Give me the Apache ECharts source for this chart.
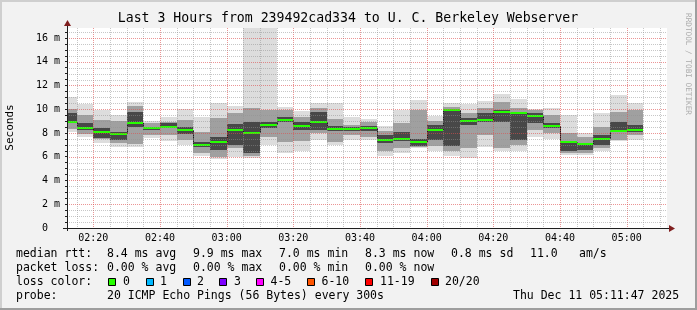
<!DOCTYPE html>
<html><head><meta charset="utf-8">
<script src="https://cdn.jsdelivr.net/npm/echarts@6/dist/echarts.min.js"></script>
<style>html,body{margin:0;padding:0;background:#f2f2f2}#c{width:697px;height:310px}</style>
</head><body><div id="c"></div><script>
// ---- data (milliseconds) ----
const stepStarts = ['02:10','02:15','02:20','02:25','02:30','02:35','02:40','02:45','02:50','02:55',
  '03:00','03:05','03:10','03:15','03:20','03:25','03:30','03:35','03:40','03:45','03:50','03:55',
  '04:00','04:05','04:10','04:15','04:20','04:25','04:30','04:35','04:40','04:45','04:50','04:55','05:00'];
const medianMs = [8.9,8.42,8.1,7.92,8.87,8.45,8.53,8.25,7.0,7.27,8.25,7.97,8.7,9.1,8.55,8.93,8.36,8.36,8.45,7.41,7.52,7.27,8.22,9.94,9.04,9.09,9.77,9.71,9.43,8.62,7.21,7.05,7.52,8.2,8.25];
const minMs = [8.05,7.7,7.15,6.8,6.85,7.55,7.3,7.0,6.09,5.78,6.0,5.92,7.0,6.35,6.45,7.4,7.0,7.45,7.4,6.1,6.3,6.7,6.45,6.1,5.87,6.8,6.5,6.5,7.65,7.5,6.15,6.15,6.5,7.3,7.41];
const p15Ms = [8.3,7.9,7.47,7.13,7.1,7.83,7.83,7.4,6.3,6.0,6.77,6.1,7.7,7.2,7.3,7.97,7.27,7.8,7.7,6.5,6.7,6.85,6.9,6.5,6.7,7.83,6.7,7.0,8.25,7.97,6.35,6.35,6.75,7.41,7.8];
const p35Ms = [8.85,8.25,7.6,7.4,8.5,8.25,8.39,7.92,6.8,6.57,6.99,6.3,8.4,8.9,8.25,8.25,8.2,8.2,8.2,7.13,7.3,6.9,7.41,6.9,8.67,8.95,8.95,7.45,8.82,8.39,6.5,6.57,6.99,8.2,8.11];
const p65Ms = [9.66,8.8,8.4,8.1,9.8,8.53,8.81,8.53,7.27,7.7,8.73,8.95,8.95,9.38,8.95,9.8,8.55,8.5,8.6,7.83,8.1,7.5,8.67,10.0,9.24,9.66,9.94,9.8,9.66,8.81,7.25,7.15,7.83,8.95,8.67];
const p85Ms = [10.0,9.5,9.1,9.0,10.3,8.81,8.95,9.1,8.1,9.24,9.66,10.08,9.9,9.9,9.38,10.08,9.15,8.7,8.9,8.2,8.81,9.9,9.0,10.2,9.66,10.08,10.64,10.1,9.9,9.52,7.97,7.7,8.53,9.8,9.94];
const maxMs = [11.0,10.4,9.95,9.5,10.65,9.05,9.38,10.0,9.37,10.5,10.27,18,18,10.22,9.85,10.55,10.5,9.38,9.15,8.6,9.94,10.8,9.43,10.5,10.45,10.7,11.28,10.83,10.05,10.08,9.52,8.03,9.71,11.2,10.55];
const timeLabels = ['02:20','02:40','03:00','03:20','03:40','04:00','04:20','04:40','05:00'];
const yLabelValues = [0,2,4,6,8,10,12,14,16];
const lossLevels = ['0','1','2','3','4-5','6-10','11-19','20/20'];
const lossColors = ['#26ff00','#00b8ff','#0059ff','#7e00ff','#ff00ff','#ff5500','#ff0000','#a00000'];
const timeStart = 132.1, timeEnd = 312.1, stepMinutes = 5, yMax = 16.84;

// ---- build ----
const toMin = s => { const p = s.split(':').map(Number); return p[0]*60 + p[1]; };
const fmtTime = v => { const h = Math.floor(v/60), m = Math.round(v - h*60); return String(h).padStart(2,'0') + ':' + String(m).padStart(2,'0'); };
const smokeData = stepStarts.map((s,i) => [toMin(s), toMin(s)+stepMinutes, minMs[i], p15Ms[i], p35Ms[i], p65Ms[i], p85Ms[i], maxMs[i]]);
const medData = stepStarts.map((s,i) => [toMin(s), toMin(s)+stepMinutes, medianMs[i], i > 0 ? medianMs[i-1] : medianMs[i]]);
const gridData = [];
for (let t = 135; t <= 310; t += 5) gridData.push([0, t, t % 20 === 0 ? 1 : 0]);
for (let v = 0.5; v <= 16.5; v += 0.5) gridData.push([1, v, Math.abs(v % 2) < 1e-9 ? 1 : 0]);
const yTickValues = []; for (let v = 0; v <= 16.5; v += 0.5) yTickValues.push(v);

const FONT = "'DejaVu Sans Mono', monospace";
const chart = echarts.init(document.getElementById('c'));
const bandColors = ['#dddddd', '#a0a0a0', '#484848'];

function renderSmoke(params, api) {
  const cs = params.coordSys;
  const x0 = Math.round(api.coord([api.value(0), 0])[0]);
  const x1 = Math.round(api.coord([api.value(1), 0])[0]);
  const pairs = [[2,7],[3,6],[4,5]];
  const children = [];
  pairs.forEach((p, k) => {
    const yHi = Math.round(api.coord([0, api.value(p[1])])[1]);
    const yLo = Math.round(api.coord([0, api.value(p[0])])[1]);
    const r = echarts.graphic.clipRectByRect({x: x0, y: yHi, width: x1 - x0, height: yLo - yHi},
      {x: cs.x, y: cs.y, width: cs.width, height: cs.height});
    if (r) children.push({type: 'rect', shape: r, style: {fill: bandColors[k]}});
  });
  return {type: 'group', children};
}
function renderMedian(params, api) {
  const cs = params.coordSys;
  let x0 = Math.round(api.coord([api.value(0), 0])[0]);
  const x1 = Math.round(api.coord([api.value(1), 0])[0]);
  const y = Math.round(api.coord([0, api.value(2)])[1]);
  const yp = Math.round(api.coord([0, api.value(3)])[1]);
  const children = [];
  const drawConnector = x0 >= cs.x;
  x0 = Math.max(x0, cs.x);
  if (drawConnector && yp !== y) {
    children.push({type: 'line', shape: {x1: x0 + 0.5, y1: yp, x2: x0 + 0.5, y2: y}, style: {stroke: '#202020', lineWidth: 1}});
  }
  children.push({type: 'rect', shape: {x: x0, y: y - 1, width: x1 - x0, height: 2}, style: {fill: '#26ff00'}});
  return {type: 'group', children};
}
function renderGrid(params, api) {
  const cs = params.coordSys;
  const vertical = api.value(0) === 0;
  const major = api.value(2) === 1;
  const stroke = major ? 'rgba(222,79,79,0.6)' : 'rgba(143,143,143,0.5)';
  let shape;
  if (vertical) {
    const x = Math.round(api.coord([api.value(1), 0])[0]) + 0.5;
    shape = {x1: x, y1: cs.y, x2: x, y2: cs.y + cs.height};
  } else {
    const y = Math.round(api.coord([0, api.value(1)])[1]) + 0.5;
    shape = {x1: cs.x, y1: y, x2: cs.x + cs.width, y2: y};
  }
  return {type: 'line', shape, style: {stroke, lineWidth: 1, lineDash: [1, 1]}};
}

const texts = [];
function txt(x, y, s) {
  texts.push({type: 'text', x, y, z: 100,
    style: {text: s, font: '11.5px ' + FONT, fill: '#000', textAlign: 'left', align: 'left', textVerticalAlign: 'middle', verticalAlign: 'middle'}});
}
// legend rows
txt(16, 254, 'median rtt:'); txt(107, 254, '8.4 ms avg'); txt(193, 254, '9.9 ms max'); txt(279, 254, '7.0 ms min');
txt(365, 254, '8.3 ms now'); txt(451, 254, '0.8 ms sd'); txt(530, 254, '11.0'); txt(579, 254, 'am/s');
txt(16, 268, 'packet loss:'); txt(107, 268, '0.00 % avg'); txt(193, 268, '0.00 % max'); txt(279, 268, '0.00 % min'); txt(365, 268, '0.00 % now');
txt(16, 282, 'loss color:');
const boxX = [108, 145.5, 182.5, 219, 256, 307, 365, 430.5];
const labX = [123, 160, 197, 234, 270.5, 321.5, 380, 445];
lossLevels.forEach((l, i) => {
  texts.push({type: 'rect', z: 100, shape: {x: Math.round(boxX[i]) + 0.5, y: 278.5, width: 7, height: 7}, style: {fill: lossColors[i], stroke: '#000', lineWidth: 1}});
  txt(labX[i], 282, l);
});
txt(16, 296, 'probe:'); txt(107, 296, '20 ICMP Echo Pings (56 Bytes) every 300s'); txt(513, 296, 'Thu Dec 11 05:11:47 2025');
// title, y-name, credit
const titleText = 'Last 3 Hours from 239492cad334 to U. C. Berkeley Webserver';
texts.push({type: 'text', x: 348, y: 19, z: 100, style: {text: titleText, font: '13.2px ' + FONT, fill: '#000', textAlign: 'center', align: 'center', textVerticalAlign: 'middle', verticalAlign: 'middle'}});
texts.push({type: 'text', x: 10.5, y: 127.5, rotation: Math.PI/2, z: 100, style: {text: 'Seconds', font: '11px ' + FONT, fill: '#000', textAlign: 'center', align: 'center', textVerticalAlign: 'middle', verticalAlign: 'middle'}});
texts.push({type: 'text', x: 688, y: 64, rotation: -Math.PI/2, z: 100, style: {text: 'RRDTOOL / TOBI OETIKER', font: '7.7px ' + FONT, fill: '#ababab', textAlign: 'center', align: 'center', textVerticalAlign: 'middle', verticalAlign: 'middle'}});
// axes lines + arrows, frame
const deco = [
  {type: 'rect', z: 1, shape: {x: 67, y: 28, width: 600, height: 200}, style: {fill: '#ffffff'}, silent: true},
  {type: 'line', z: 90, shape: {x1: 67.5, y1: 231, x2: 67.5, y2: 24}, style: {stroke: '#1f1f1f', lineWidth: 1}},
  {type: 'line', z: 90, shape: {x1: 63, y1: 228.5, x2: 670, y2: 228.5}, style: {stroke: '#1f1f1f', lineWidth: 1}},
  {type: 'polygon', z: 91, shape: {points: [[64, 26], [71, 26], [67.5, 20]]}, style: {fill: '#801f1f'}},
  {type: 'polygon', z: 91, shape: {points: [[669, 225], [669, 232], [675, 228.5]]}, style: {fill: '#801f1f'}},
  {type: 'rect', z: 95, shape: {x: 0, y: 0, width: 697, height: 2}, style: {fill: '#cfcfcf'}},
  {type: 'rect', z: 95, shape: {x: 0, y: 0, width: 2, height: 310}, style: {fill: '#cfcfcf'}},
  {type: 'rect', z: 96, shape: {x: 0, y: 308, width: 697, height: 2}, style: {fill: '#9e9e9e'}},
  {type: 'rect', z: 96, shape: {x: 695, y: 0, width: 2, height: 310}, style: {fill: '#9e9e9e'}}
];

chart.setOption({
  animation: false,
  backgroundColor: '#f2f2f2',
  grid: {left: 67, top: 28, width: 600, height: 200, show: false},
  xAxis: {
    type: 'value', min: timeStart, max: timeEnd,
    axisLine: {show: false}, splitLine: {show: false},
    axisTick: {show: false},
    axisLabel: {customValues: timeLabels.map(toMin), formatter: v => fmtTime(v), margin: 5,
      fontFamily: FONT, fontSize: 10, color: '#000'}
  },
  yAxis: {
    type: 'value', min: 0, max: yMax,
    axisLine: {show: false}, splitLine: {show: false},
    axisTick: {show: true, customValues: yTickValues, length: 2, lineStyle: {color: '#1f1f1f'}},
    axisLabel: {customValues: yLabelValues, formatter: v => v === 0 ? '0  ' : v + ' m', margin: 7,
      fontFamily: FONT, fontSize: 10, color: '#000'}
  },
  graphic: deco.concat(texts),
  series: [
    {type: 'custom', name: 'smoke', z: 2, renderItem: renderSmoke, data: smokeData, silent: true},
    {type: 'custom', name: 'median', z: 3, renderItem: renderMedian, data: medData, silent: true},
    {type: 'custom', name: 'grid', z: 4, renderItem: renderGrid, data: gridData, silent: true}
  ]
});
</script></body></html>
